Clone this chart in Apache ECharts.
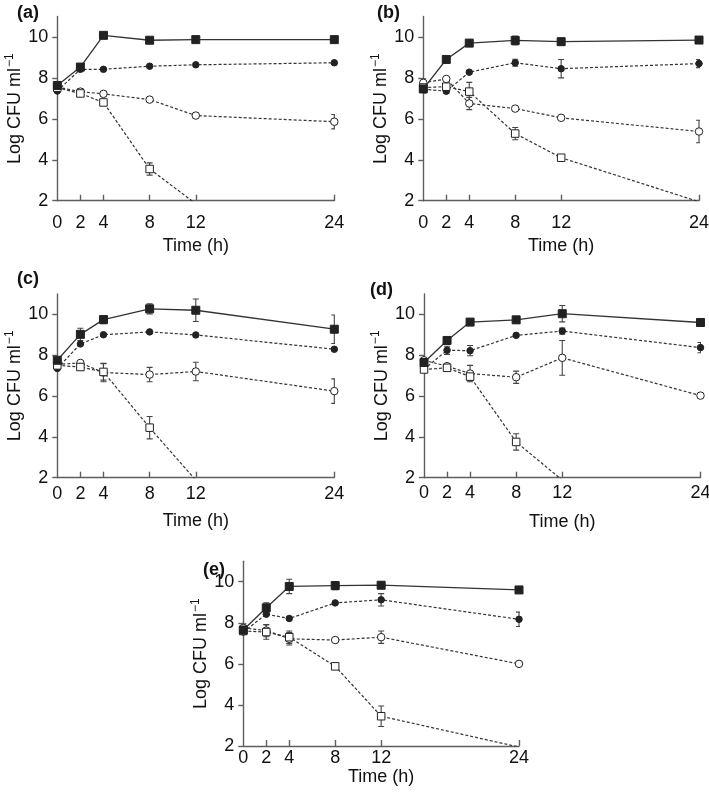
<!DOCTYPE html>
<html>
<head>
<meta charset="utf-8">
<script src="https://cdn.jsdelivr.net/npm/echarts@6/dist/echarts.min.js"></script>
<style>
html,body{margin:0;padding:0;background:#fff;}
#chart{width:709px;height:801px;}
</style>
</head>
<body>
<div id="chart"></div>
<script>
// ---------- data ----------
const times = [0, 2, 4, 8, 12, 24];
const xTickLabels = [0, 2, 4, 8, 12, 24];
const xTickMarks = [2, 4, 8, 12, 24];
const yTickLabels = [2, 4, 6, 8, 10];
const panelLabels = ['(a)', '(b)', '(c)', '(d)', '(e)'];
const xAxisTitle = 'Time (h)';
const yAxisTitleMain = 'Log CFU ml';
const yAxisTitleSup = '\u22121';

// series 1: filled squares (solid line); 2: filled circles; 3: open circles; 4: open squares
const a1 = [7.63, 8.53, 10.08, 9.84, 9.87, 9.87];
const a2 = [7.36, 8.42, 8.42, 8.57, 8.64, 8.74];
const a3 = [7.55, 7.33, 7.22, 6.94, 6.16, 5.86];
const a4 = [7.52, 7.24, 6.80, 3.55, 1.85, null];
const a1Err = [0.15, 0.1, 0, 0, 0, 0];
const a2Err = [0, 0, 0, 0, 0, 0];
const a3Err = [0, 0.15, 0.12, 0, 0.12, 0.35];
const a4Err = [0, 0.12, 0.1, 0.3, 0, 0];

const b1 = [7.46, 8.90, 9.70, 9.83, 9.77, 9.85];
const b2 = [7.45, 7.35, 8.28, 8.74, 8.45, 8.70];
const b3 = [7.76, 7.95, 6.75, 6.50, 6.05, 5.38];
const b4 = [7.53, 7.57, 7.33, 5.28, 4.10, 1.95];
const b1Err = [0.2, 0, 0, 0.22, 0, 0];
const b2Err = [0, 0.1, 0, 0.17, 0.45, 0.2];
const b3Err = [0.2, 0, 0.3, 0, 0, 0.55];
const b4Err = [0, 0, 0.45, 0.3, 0, 0];

const c1 = [7.75, 9.02, 9.74, 10.27, 10.20, 9.27];
const c2 = [7.35, 8.55, 9.00, 9.14, 8.99, 8.29];
const c3 = [7.55, 7.62, 7.15, 7.05, 7.20, 6.24];
const c4 = [7.50, 7.42, 7.18, 4.45, 1.88, null];
const c1Err = [0.15, 0.3, 0.2, 0.25, 0.55, 0.7];
const c2Err = [0, 0, 0, 0, 0, 0];
const c3Err = [0.15, 0, 0.45, 0.35, 0.45, 0.6];
const c4Err = [0.15, 0, 0.4, 0.55, 0, 0];

const d1 = [7.64, 8.72, 9.62, 9.73, 10.03, 9.60];
const d2 = [7.31, 8.24, 8.22, 8.97, 9.18, 8.37];
const d3 = [7.75, 7.46, 7.10, 6.92, 7.87, 6.02];
const d4 = [7.30, 7.38, 6.95, 3.75, 1.88, null];
const d1Err = [0.1, 0, 0.1, 0.15, 0.4, 0];
const d2Err = [0, 0.2, 0.25, 0, 0.15, 0.25];
const d3Err = [0, 0.12, 0.4, 0.3, 0.85, 0.08];
const d4Err = [0.15, 0.1, 0.2, 0.4, 0, 0];

const e1 = [7.65, 8.73, 9.77, 9.81, 9.83, 9.60];
const e2 = [7.55, 8.42, 8.21, 8.97, 9.12, 8.17];
const e3 = [7.75, 7.62, 7.22, 7.16, 7.30, 6.00];
const e4 = [7.60, 7.55, 7.30, 5.88, 3.45, 1.95];
const e1Err = [0.2, 0.25, 0.35, 0.2, 0, 0];
const e2Err = [0, 0, 0, 0, 0.3, 0.35];
const e3Err = [0.2, 0.3, 0.3, 0.1, 0.3, 0];
const e4Err = [0, 0.35, 0.3, 0.15, 0.5, 0];

const panelSeries = [[a1, a2, a3, a4], [b1, b2, b3, b4], [c1, c2, c3, c4], [d1, d2, d3, d4], [e1, e2, e3, e4]];
const panelErrors = [[a1Err, a2Err, a3Err, a4Err], [b1Err, b2Err, b3Err, b4Err], [c1Err, c2Err, c3Err, c4Err], [d1Err, d2Err, d3Err, d4Err], [e1Err, e2Err, e3Err, e4Err]];

// ---------- layout & style ----------
const layout = [
  {left: 57.3, top: 16.5, width: 277, height: 184.2, xMargin: 13, xNameGap: 36, yNameGap: 27, tl: 17, tt: 4},
  {left: 423.3, top: 16.5, width: 275.7, height: 184.2, xMargin: 13, xNameGap: 36, yNameGap: 26, tl: 377, tt: 4},
  {left: 57.3, top: 293.9, width: 277, height: 183.8, xMargin: 7, xNameGap: 34, yNameGap: 29, tl: 17, tt: 270},
  {left: 424, top: 293.9, width: 276.5, height: 183.8, xMargin: 6, xNameGap: 35, yNameGap: 25, tl: 370, tt: 281},
  {left: 243.3, top: 561.2, width: 275.7, height: 184.8, xMargin: 3, xNameGap: 20, yNameGap: 15, tl: 203, tt: 561}
];
const FONT = 'Liberation Sans, Arial, Helvetica, sans-serif';
const AX = '#5e5e5e';
const INK = '#222';
const seriesStyles = [
  {symbol: 'rect', size: 8, fill: INK, type: 'solid', width: 1.3},
  {symbol: 'circle', size: 6.5, fill: INK, type: [3, 2], width: 1.2},
  {symbol: 'circle', size: 7.5, fill: '#fff', type: [3, 2], width: 1.2},
  {symbol: 'rect', size: 7.5, fill: '#fff', type: [3, 2], width: 1.2}
];

function errRender(params, api) {
  const x = api.value(0), lo = api.value(1), hi = api.value(2);
  const p1 = api.coord([x, lo]);
  const p2 = api.coord([x, hi]);
  const w = 3;
  const st = {stroke: '#444', lineWidth: 1.1};
  return {
    type: 'group',
    children: [
      {type: 'line', shape: {x1: p1[0], y1: p1[1], x2: p2[0], y2: p2[1]}, style: st},
      {type: 'line', shape: {x1: p1[0] - w, y1: p1[1], x2: p1[0] + w, y2: p1[1]}, style: st},
      {type: 'line', shape: {x1: p2[0] - w, y1: p2[1], x2: p2[0] + w, y2: p2[1]}, style: st}
    ]
  };
}

const option = {
  animation: false,
  backgroundColor: '#fff',
  textStyle: {fontFamily: FONT},
  title: [], grid: [], xAxis: [], yAxis: [], series: []
};

layout.forEach((L, p) => {
  option.title.push({
    text: panelLabels[p], left: L.tl, top: L.tt, padding: 0,
    textStyle: {fontFamily: FONT, fontSize: 18, fontWeight: 'bold', color: '#111'}
  });
  option.grid.push({left: L.left, top: L.top, width: L.width, height: L.height, outerBoundsMode: 'none'});
  option.xAxis.push({
    type: 'value', gridIndex: p, min: 0, max: 24,
    name: xAxisTitle, nameLocation: 'middle', nameGap: L.xNameGap,
    nameTextStyle: {fontFamily: FONT, fontSize: 18, color: '#111'},
    axisLine: {show: true, onZero: false, lineStyle: {color: AX, width: 1.4}},
    axisTick: {show: true, inside: true, length: 6, customValues: xTickMarks, lineStyle: {color: AX, width: 1.4}},
    axisLabel: {customValues: xTickLabels, margin: L.xMargin, fontFamily: FONT, fontSize: 18, color: '#111'},
    splitLine: {show: false}
  });
  option.yAxis.push({
    type: 'value', gridIndex: p, min: 2, max: 11,
    name: '{m|' + yAxisTitleMain + '}{s|' + yAxisTitleSup + '}',
    nameLocation: 'middle', nameGap: L.yNameGap, nameRotate: 90,
    nameTextStyle: {
      fontFamily: FONT, color: '#111',
      rich: {
        m: {fontFamily: FONT, fontSize: 18, color: '#111', lineHeight: 22, verticalAlign: 'bottom'},
        s: {fontFamily: FONT, fontSize: 12, color: '#111', verticalAlign: 'top', padding: [1, 0, 0, 1]}
      }
    },
    axisLine: {show: true, onZero: false, lineStyle: {color: AX, width: 1.4}},
    axisTick: {show: true, inside: false, length: 5, customValues: yTickLabels, lineStyle: {color: AX, width: 1.4}},
    axisLabel: {customValues: yTickLabels, margin: 9, fontFamily: FONT, fontSize: 18, color: '#111'},
    splitLine: {show: false}
  });
  const sers = panelSeries[p];
  const errs = panelErrors[p];
  sers.forEach((vals, k) => {
    const eb = [];
    vals.forEach((v, i) => {
      if (v != null && errs[k][i] > 0) eb.push([times[i], v - errs[k][i], v + errs[k][i]]);
    });
    if (eb.length) {
      option.series.push({
        type: 'custom', xAxisIndex: p, yAxisIndex: p, renderItem: errRender,
        data: eb, encode: {x: 0, y: [1, 2]}, z: 1, clip: true, silent: true
      });
    }
  });
  sers.forEach((vals, k) => {
    const S = seriesStyles[k];
    const data = [];
    vals.forEach((v, i) => { if (v != null) data.push([times[i], v]); });
    option.series.push({
      type: 'line', xAxisIndex: p, yAxisIndex: p, data: data,
      symbol: S.symbol, symbolSize: S.size, showSymbol: true, clip: true,
      z: 3 + (k === 0 ? 1 : 0),
      lineStyle: {color: '#333', width: S.width, type: S.type},
      itemStyle: {color: S.fill, borderColor: INK, borderWidth: 1},
      emphasis: {disabled: true}
    });
  });
});

const chart = echarts.init(document.getElementById('chart'), null, {renderer: 'canvas'});
chart.setOption(option);
</script>
</body>
</html>
